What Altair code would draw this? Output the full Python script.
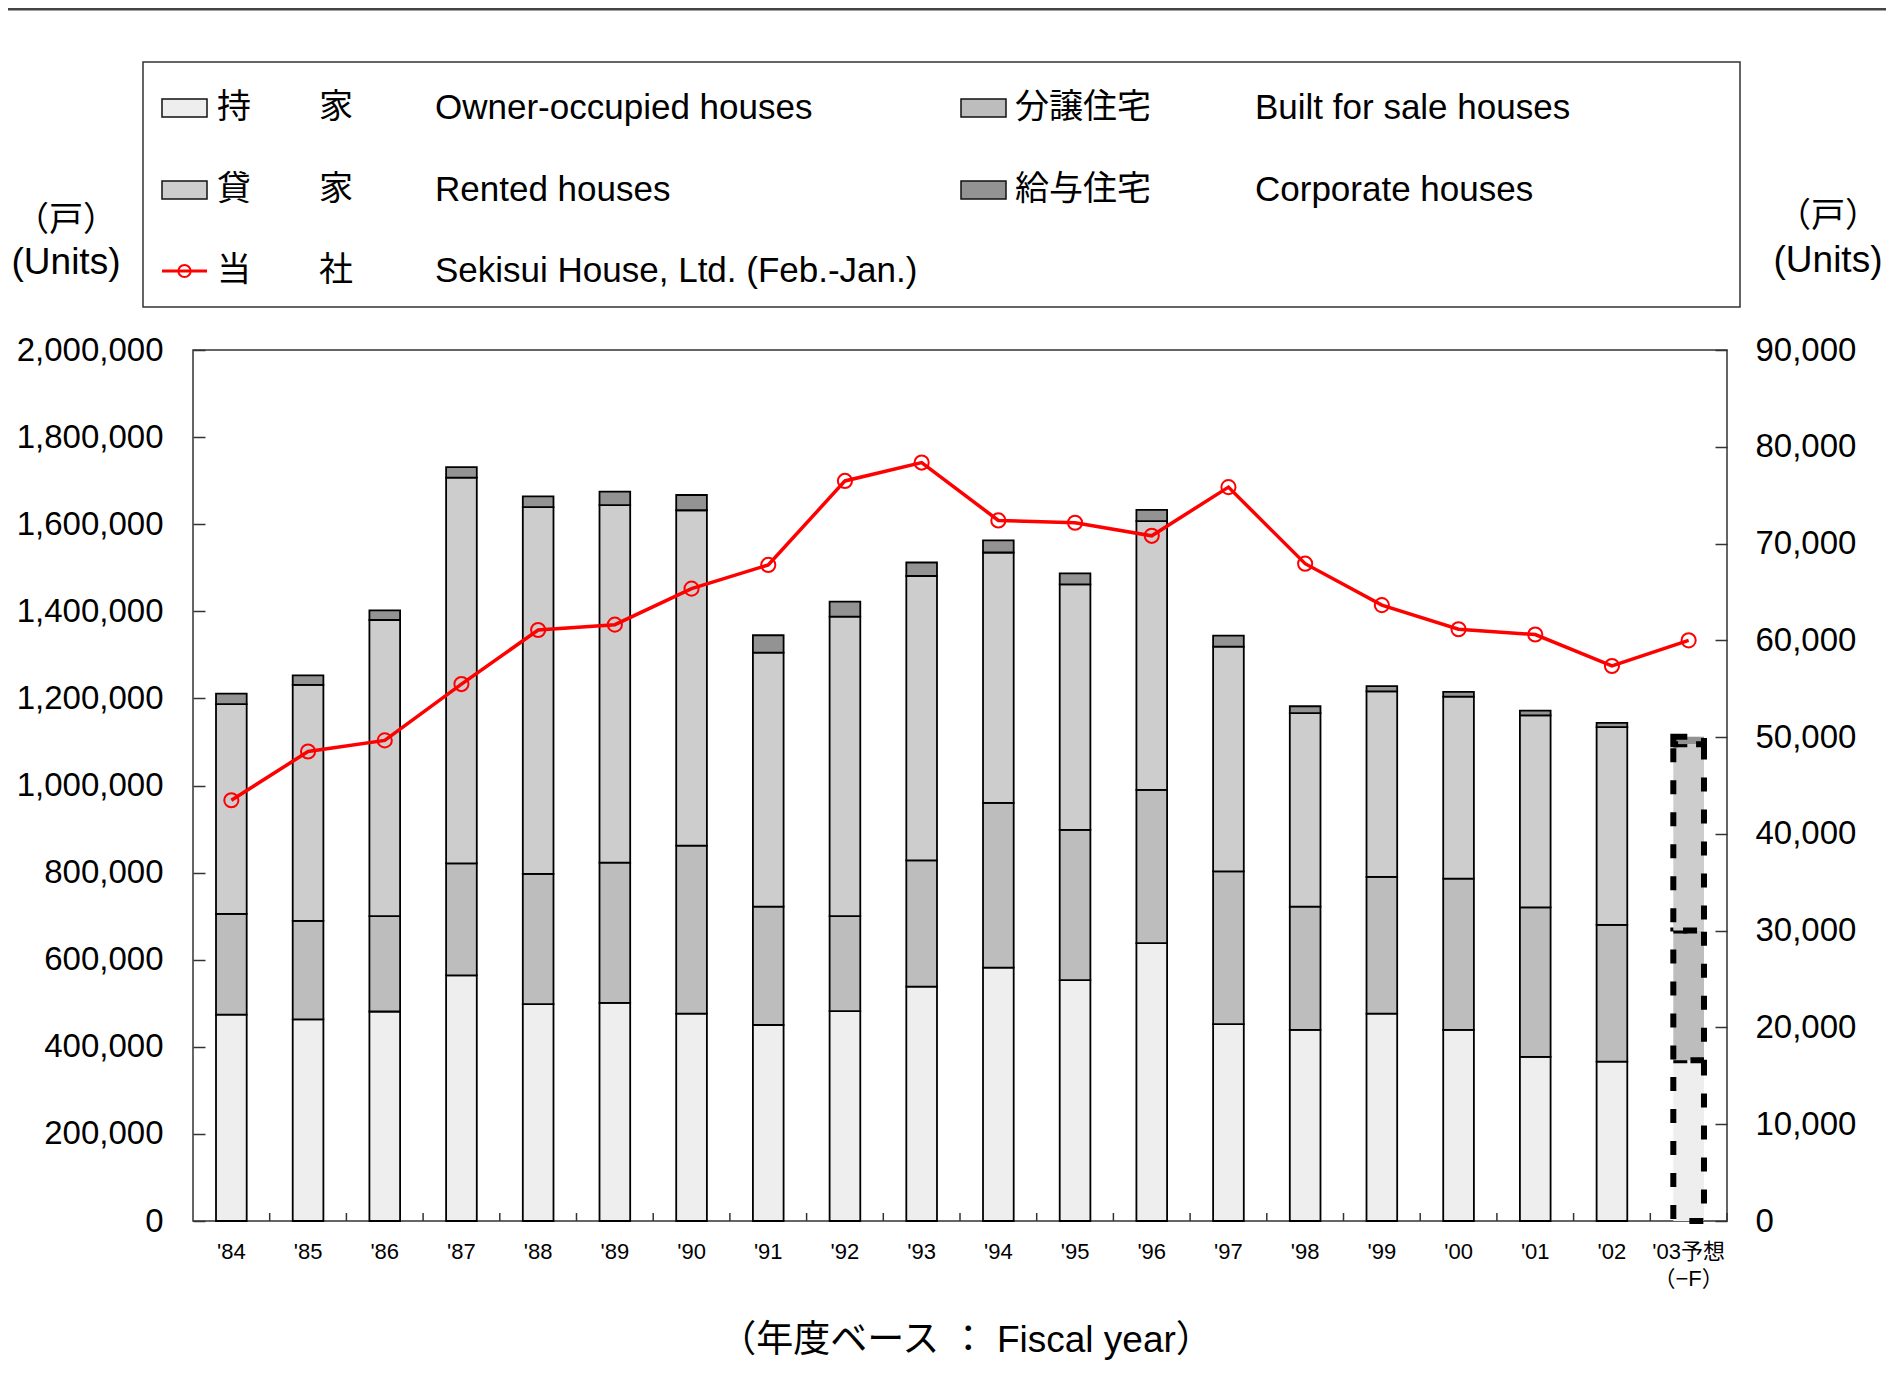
import altair as alt
import pandas as pd

# ---------------- data ----------------
years = ["'84", "'85", "'86", "'87", "'88", "'89", "'90", "'91", "'92", "'93",
         "'94", "'95", "'96", "'97", "'98", "'99", "'00", "'01", "'02", "'03予想"]
forecast_year = "'03予想"
forecast_sub = "（−F）"

owner = [474000, 463000, 481000, 564000, 498000, 501000, 476000, 450000, 482000, 538000,
         582000, 553000, 638000, 452000, 439000, 476000, 439000, 377000, 366000, 369000]
built_for_sale = [231000, 226000, 219000, 257000, 299000, 322000, 386000, 272000, 218000, 290000,
                  378000, 345000, 352000, 351000, 283000, 314000, 347000, 343000, 314000, 298000]
rented = [482000, 542000, 680000, 886000, 842000, 821000, 770000, 583000, 688000, 653000,
          575000, 564000, 617000, 516000, 444000, 426000, 418000, 441000, 454000, 428000]
corporate = [24000, 22000, 22000, 24000, 25000, 31000, 35000, 40000, 34000, 31000,
             28000, 25000, 26000, 25000, 16000, 12000, 11000, 11000, 10000, 17000]
sekisui = [43480, 48510, 49660, 55480, 61070, 61620, 65340, 67790, 76470, 78370,
           72390, 72150, 70800, 75830, 67920, 63640, 61150, 60600, 57350, 60000]

series_jp = ["持　　家", "分譲住宅", "貸　　家", "給与住宅"]
series_en = ["Owner-occupied houses", "Built for sale houses", "Rented houses", "Corporate houses"]
line_jp = "当　　社"
line_en = "Sekisui House, Ltd. (Feb.-Jan.)"

left_ticks = [0, 200000, 400000, 600000, 800000, 1000000, 1200000, 1400000, 1600000, 1800000, 2000000]
right_ticks = [0, 10000, 20000, 30000, 40000, 50000, 60000, 70000, 80000, 90000]
unit_jp = "（戸）"
unit_en = "(Units)"
x_title = "（年度ベース ： Fiscal year）"

# ---------------- styles ----------------
fill_colors = ["#eeeeee", "#bdbdbd", "#cdcdcd", "#939393"]
RED = "#ff0000"
W, H = 1534, 871
STEP = W / len(years)
LAT = "Liberation Sans, Arial, Noto Sans CJK JP"
JP = "Noto Sans CJK JP"

series_values = [owner, built_for_sale, rented, corporate]
rows = []
for k, (name, vals) in enumerate(zip(series_en, series_values)):
    for y, v in zip(years, vals):
        rows.append({"year": y, "series": name, "k": k, "value": v})
bar_df = pd.DataFrame(rows)
line_df = pd.DataFrame({"year": years, "units": sekisui})
x_labels = [y if y != forecast_year else y + "\n" + forecast_sub for y in years]
label_df = pd.DataFrame({"year": years, "label": x_labels})

xscale = alt.Scale(domain=years, paddingInner=0.6, paddingOuter=0.3)
left_scale = alt.Scale(domain=[0, 2000000], nice=False, zero=True)
right_scale = alt.Scale(domain=[0, 90000], nice=False, zero=True)
fill_scale = alt.Scale(domain=series_en, range=fill_colors)

left_label_axis = alt.Axis(orient="left", values=left_ticks, format=",d", labelFontSize=33,
                           labelFont=LAT, labelColor="black", labelPadding=30, ticks=False,
                           domain=False, grid=False, title=None)
left_tick_axis = alt.Axis(orient="right", offset=-W, values=left_ticks, labels=False,
                          domain=False, grid=False, ticks=True, tickSize=12,
                          tickColor="#333", tickWidth=1.5, title=None)
right_label_axis = alt.Axis(orient="right", values=right_ticks, format=",d", labelFontSize=33,
                            labelFont=LAT, labelColor="black", labelPadding=28, ticks=False,
                            domain=False, grid=False, title=None)
right_tick_axis = alt.Axis(orient="left", offset=-W, values=right_ticks, labels=False,
                           domain=False, grid=False, ticks=True, tickSize=12,
                           tickColor="#333", tickWidth=1.5, title=None)

X = alt.X("year:N", scale=xscale, sort=years, axis=None)

base_bar = alt.Chart(bar_df)
bars_normal = base_bar.transform_filter(f'datum.year !== "{forecast_year}"').mark_bar(
    stroke="#000", strokeWidth=1.8
).encode(
    x=X,
    y=alt.Y("value:Q", stack="zero", scale=left_scale, axis=left_label_axis),
    fill=alt.Fill("series:N", scale=fill_scale, legend=None),
    order=alt.Order("k:Q", sort="ascending"),
)
bars_fc = base_bar.transform_filter(f'datum.year === "{forecast_year}"').mark_bar(
    stroke="#000", strokeWidth=6, strokeDash=[14, 18]
).encode(
    x=X,
    y=alt.Y("value:Q", stack="zero", scale=left_scale, axis=None),
    fill=alt.Fill("series:N", scale=fill_scale, legend=None),
    order=alt.Order("k:Q", sort="ascending"),
)
left_helper = alt.Chart(pd.DataFrame({"tick": left_ticks})).mark_point(opacity=0).encode(
    y=alt.Y("tick:Q", scale=left_scale, axis=left_tick_axis)
)
left_group = alt.layer(bars_normal, bars_fc, left_helper).resolve_axis(y="independent")

line = alt.Chart(line_df).mark_line(color=RED, strokeWidth=3.5).encode(
    x=X,
    y=alt.Y("units:Q", scale=right_scale, axis=right_label_axis),
)
points = alt.Chart(line_df).mark_point(filled=False, color=RED, size=200, strokeWidth=2,
                                       opacity=1).encode(
    x=X,
    y=alt.Y("units:Q", scale=right_scale, axis=right_tick_axis),
)
right_group = alt.layer(line, points).resolve_axis(y="independent")

# x-axis category labels and inward boundary ticks (on the band scale)
x_text = alt.Chart(label_df).mark_text(
    fontSize=22, font=LAT, baseline="top", align="center", lineBreak="\n",
    lineHeight=27, color="black"
).encode(x=X, y=alt.value(H + 21), text="label:N")
x_ticks = alt.Chart(label_df).mark_rule(color="#333", strokeWidth=1.5, xOffset=STEP / 2).encode(
    x=X, y=alt.value(H - 8), y2=alt.value(H)
)

# ---------------- legend & annotations ----------------
one = pd.DataFrame({"t": [""]})


def text_at(txt, x, y, size, font, align="left"):
    return alt.Chart(pd.DataFrame({"t": [txt]})).mark_text(
        fontSize=size, font=font, align=align, baseline="middle", color="black"
    ).encode(text="t:N", x=alt.value(x), y=alt.value(y))


def swatch(color, x, y):
    return alt.Chart(one).mark_rect(fill=color, stroke="#111", strokeWidth=1.5).encode(
        x=alt.value(x), x2=alt.value(x + 45), y=alt.value(y - 9), y2=alt.value(y + 9)
    )


ann = []
ann.append(alt.Chart(one).mark_rule(color="#444", strokeWidth=3).encode(
    x=alt.value(-185), x2=alt.value(W + 159), y=alt.value(-341)))
ann.append(alt.Chart(one).mark_rect(fill="white", fillOpacity=0, stroke="#333",
                                    strokeWidth=1.5).encode(
    x=alt.value(-50), x2=alt.value(1547), y=alt.value(-288), y2=alt.value(-43)))

row_y = [-242, -160, -79]
col_sym = [-31, 768]
col_jp = [24, 822]
col_en = [242, 1062]
slots = [(0, 0), (0, 1), (1, 0), (1, 1)]  # (row, col) for owner, sale, rented, corp
for k, (r, c) in enumerate(slots):
    ann.append(swatch(fill_colors[k], col_sym[c], row_y[r]))
    ann.append(text_at(series_jp[k], col_jp[c], row_y[r], 34, JP))
    ann.append(text_at(series_en[k], col_en[c], row_y[r], 35, LAT))
ann.append(alt.Chart(one).mark_rule(color=RED, strokeWidth=3).encode(
    x=alt.value(col_sym[0]), x2=alt.value(col_sym[0] + 45), y=alt.value(row_y[2])))
ann.append(alt.Chart(one).mark_point(filled=False, color=RED, size=150, strokeWidth=2,
                                     opacity=1).encode(
    x=alt.value(col_sym[0] + 22.5), y=alt.value(row_y[2])))
ann.append(text_at(line_jp, col_jp[0], row_y[2], 34, JP))
ann.append(text_at(line_en, col_en[0], row_y[2], 35, LAT))

ann.append(text_at(unit_jp, -127, -129, 34, JP, "center"))
ann.append(text_at(unit_en, -127, -87, 37, LAT, "center"))
ann.append(text_at(unit_jp, 1635, -133, 34, JP, "center"))
ann.append(text_at(unit_en, 1635, -89, 37, LAT, "center"))
ann.append(text_at(x_title, W / 2 + 6, 991, 37, LAT, "center"))

chart = alt.layer(left_group, right_group, x_ticks, x_text, *ann).resolve_scale(
    y="independent"
).resolve_axis(
    y="independent"
).properties(
    width=W, height=H,
    padding={"left": 185, "top": 342, "right": 159, "bottom": 145},
    autosize=alt.AutoSizeParams(type="none"),
).configure_view(stroke="#333", strokeWidth=1.5)

chart.save("out.html", embed_options={"renderer": "svg", "actions": False})
